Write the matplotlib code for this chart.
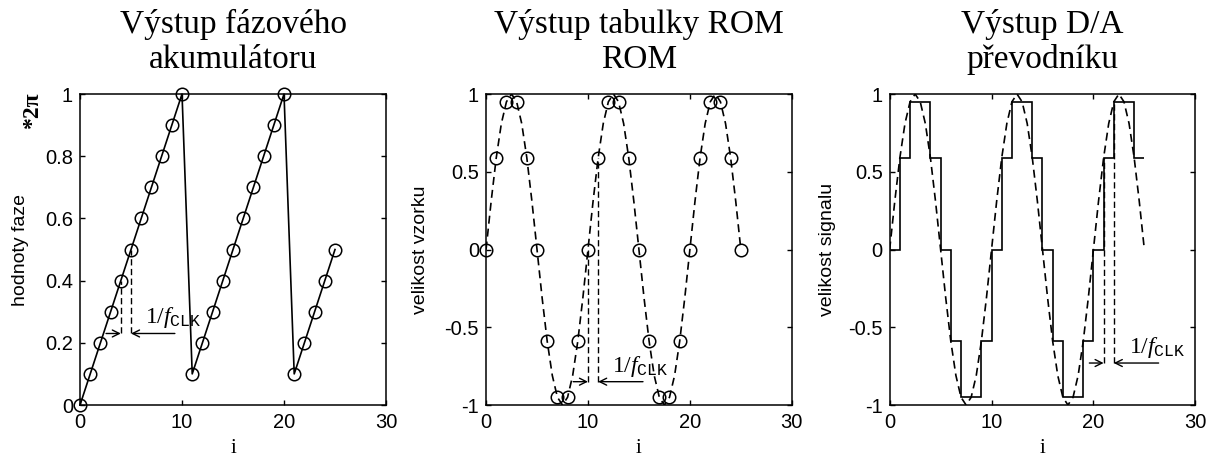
import numpy as np
import matplotlib
matplotlib.use("Agg")
import matplotlib.pyplot as plt
from matplotlib.ticker import FormatStrFormatter

plt.rcParams["font.family"] = ["Liberation Sans", "DejaVu Sans"]
plt.rcParams["axes.unicode_minus"] = False
plt.rcParams["mathtext.fontset"] = "custom"
plt.rcParams["mathtext.rm"] = "Liberation Serif"
plt.rcParams["mathtext.it"] = "Liberation Serif:italic"
plt.rcParams["mathtext.tt"] = "Liberation Mono"

# sample index
i = np.arange(26)

# phase accumulator output (fraction of 2*pi)
phase = [0.0, 0.1, 0.2, 0.3, 0.4, 0.5, 0.6, 0.7, 0.8, 0.9, 1.0,
         0.1, 0.2, 0.3, 0.4, 0.5, 0.6, 0.7, 0.8, 0.9, 1.0,
         0.1, 0.2, 0.3, 0.4, 0.5]

# ROM table output
rom = [0.0, 0.59, 0.95, 0.95, 0.59, 0.0, -0.59, -0.95, -0.95, -0.59,
       0.0, 0.59, 0.95, 0.95, 0.59, 0.0, -0.59, -0.95, -0.95, -0.59,
       0.0, 0.59, 0.95, 0.95, 0.59, 0.0]

# analog reference signal, every half sample
t_analog = np.arange(51) * 0.5
analog = [0.0, 0.31, 0.59, 0.81, 0.95, 1.0, 0.95, 0.81, 0.59, 0.31,
          0.0, -0.31, -0.59, -0.81, -0.95, -1.0, -0.95, -0.81, -0.59, -0.31,
          0.0, 0.31, 0.59, 0.81, 0.95, 1.0, 0.95, 0.81, 0.59, 0.31,
          0.0, -0.31, -0.59, -0.81, -0.95, -1.0, -0.95, -0.81, -0.59, -0.31,
          0.0, 0.31, 0.59, 0.81, 0.95, 1.0, 0.95, 0.81, 0.59, 0.31,
          0.0]

titles = ["Výstup fázového\nakumulátoru",
          "Výstup tabulky ROM\nROM",
          "Výstup D/A\npřevodníku"]
ylabels = ["hodnoty faze", "velikost vzorku", "velikost signalu"]

DASH = (4.8, 3.0)
LW = 1.2


def setup_axes(ax, title, ylabel, ylim, yticks, ylab_x):
    ax.set_xlim(0, 30)
    ax.set_ylim(*ylim)
    ax.set_xticks([0, 10, 20, 30])
    ax.set_yticks(yticks)
    ax.yaxis.set_major_formatter(FormatStrFormatter("%g"))
    ax.tick_params(direction="in", top=True, right=True, length=3.5,
                   width=1.0, labelsize=14.5, pad=6)
    ax.tick_params(axis="y", pad=5)
    for s in ax.spines.values():
        s.set_linewidth(1.1)
    ax.set_title(title, family="Liberation Serif", fontsize=24,
                 linespacing=1.16, pad=19)
    ax.set_xlabel("i", family="Liberation Serif", fontsize=15, labelpad=5)
    ax.set_ylabel(ylabel, fontsize=14, va="center")
    ax.yaxis.set_label_coords(ylab_x, 0.5)


def clk_marker(ax, xa, xb, ya, yb, y, x_left, x_right, tx, ty):
    # dashed guides down from two neighbouring samples + arrows between them
    ax.plot([xa, xa], [y, ya], color="k", lw=1.0, dashes=(4.5, 2.5))
    ax.plot([xb, xb], [y, yb], color="k", lw=1.0, dashes=(4.5, 2.5))
    head = dict(arrowstyle="->,head_length=0.5,head_width=0.25",
                color="k", lw=1.0, shrinkA=0, shrinkB=0)
    ax.annotate("", xy=(xa, y), xytext=(x_left, y), arrowprops=head)
    ax.annotate("", xy=(xb, y), xytext=(x_right, y), arrowprops=head)
    ax.text(tx, ty, r"$\mathrm{1/}f_{\mathtt{CLK}}$", fontsize=17,
            ha="left", va="baseline")


fig = plt.figure(figsize=(12.07, 4.58), dpi=100)
ax1 = fig.add_axes([0.0663, 0.1157, 0.2535, 0.679])
ax2 = fig.add_axes([0.4027, 0.1157, 0.2533, 0.679])
ax3 = fig.add_axes([0.7371, 0.1157, 0.2532, 0.679])

# phase accumulator
ax1.plot(i, phase, color="k", lw=LW, marker="o", ms=9, mfc="none",
         mew=1.1, clip_on=False)
setup_axes(ax1, titles[0], ylabels[0], (0, 1),
           [0, 0.2, 0.4, 0.6, 0.8, 1.0], -0.196)
ax1.text(-0.155, 0.945, "*2π", transform=ax1.transAxes, rotation=90,
         ha="center", va="center", fontsize=17, fontweight="bold",
         family="Liberation Serif")
clk_marker(ax1, i[4], i[5], phase[4], phase[5], 0.23, 2.55, 9.3, 6.4, 0.265)

# ROM samples over the analog sine
ax2.plot(t_analog, analog, color="k", lw=LW, dashes=DASH)
ax2.plot(i, rom, ls="none", marker="o", ms=9, mfc="none", mec="k",
         mew=1.1, clip_on=False)
setup_axes(ax2, titles[1], ylabels[1], (-1, 1),
           [-1, -0.5, 0, 0.5, 1], -0.216)
clk_marker(ax2, i[10], i[11], rom[10], rom[11], -0.85, 8.55, 15.4,
           12.4, -0.79)

# DAC staircase output with the analog sine
ax3.stairs(rom[:-1], edges=i, baseline=None, color="k", lw=LW)
ax3.plot(t_analog, analog, color="k", lw=LW, dashes=DASH)
setup_axes(ax3, titles[2], ylabels[2], (-1, 1),
           [-1, -0.5, 0, 0.5, 1], -0.205)
clk_marker(ax3, i[21], i[22], rom[21], rom[22], -0.73, 19.6, 26.4,
           23.5, -0.665)

fig.savefig("out.png", dpi=100)
